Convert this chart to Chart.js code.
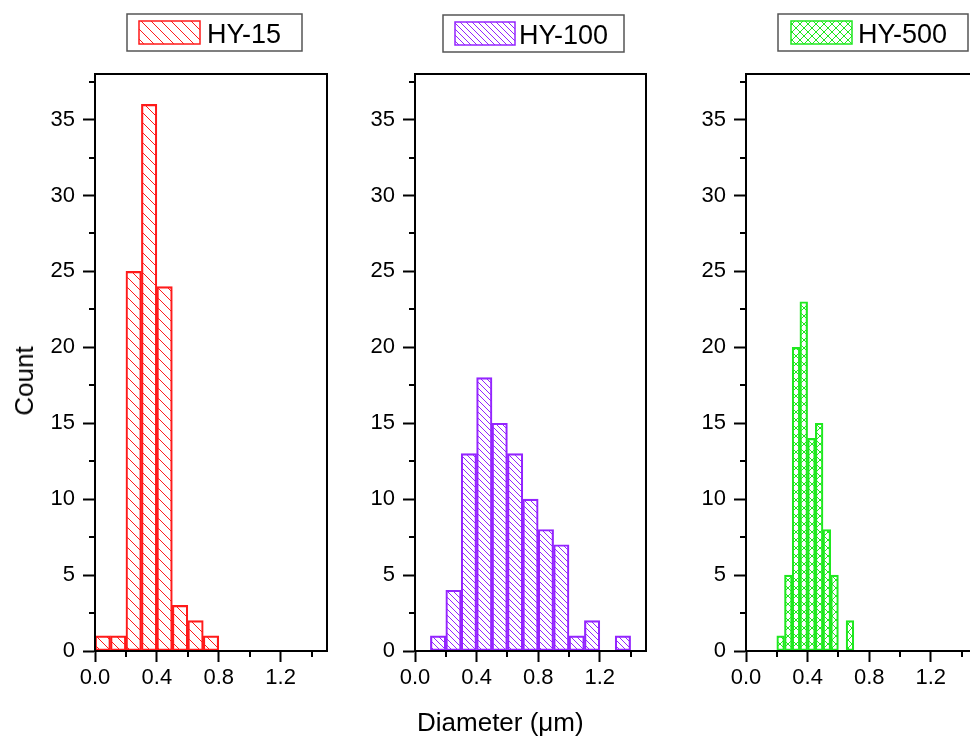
<!DOCTYPE html>
<html>
<head>
<meta charset="utf-8">
<script src="https://cdn.jsdelivr.net/npm/chart.js@4.4.0/dist/chart.umd.min.js"></script>
<style>
  html, body { margin: 0; padding: 0; background: #fff; overflow: hidden; }
  #wrap { position: relative; width: 970px; height: 742px; overflow: hidden; background: #fff; }
  canvas { position: absolute; top: 0; left: 0; }
  .ttl { position: absolute; font-family: 'Liberation Sans', Arial, sans-serif; font-size: 26px; line-height: 26px; color: #000; white-space: nowrap; }
  #ytitle { left: 24px; top: 381px; transform: translate(-50%, -50%) rotate(-90deg); }
  #xtitle { left: 417px; top: 709px; }
</style>
</head>
<body>
<div id="wrap">
  <canvas id="c1" width="990" height="742" style="width:990px;height:742px"></canvas>
  <canvas id="c2" width="990" height="742" style="width:990px;height:742px"></canvas>
  <canvas id="c3" width="990" height="742" style="width:990px;height:742px"></canvas>
  <div class="ttl" id="ytitle">Count</div>
  <div class="ttl" id="xtitle">Diameter (μm)</div>
</div>
<script>
// bin centres (µm) and counts
const hy15Bins = [0.05, 0.15, 0.25, 0.35, 0.45, 0.55, 0.65, 0.75];
const hy15Counts = [1, 1, 25, 36, 24, 3, 2, 1];

const hy100Bins = [0.15, 0.25, 0.35, 0.45, 0.55, 0.65, 0.75, 0.85, 0.95, 1.05, 1.15, 1.25, 1.35];
const hy100Counts = [1, 4, 13, 18, 15, 13, 10, 8, 7, 1, 2, 0, 1];

const hy500Bins = [0.225, 0.275, 0.325, 0.375, 0.425, 0.475, 0.525, 0.575, 0.625, 0.675];
const hy500Counts = [1, 5, 20, 23, 14, 15, 8, 5, 0, 2];

// axes
const xTicks = [0, 0.4, 0.8, 1.2];
const xTickLabels = ['0.0', '0.4', '0.8', '1.2'];
const xMinor = [0.2, 0.6, 1.0, 1.4];
const yTicks = [0, 5, 10, 15, 20, 25, 30, 35];
const yMinor = [2.5, 7.5, 12.5, 17.5, 22.5, 27.5, 32.5, 37.5];

const FONT = "'Liberation Sans', Arial, sans-serif";

function hatch(color, s, cross) {
  const c = document.createElement('canvas');
  c.width = s; c.height = s;
  const g = c.getContext('2d');
  g.strokeStyle = color;
  g.lineWidth = 1;
  g.beginPath();
  for (let k = -1; k <= 1; k++) {
    g.moveTo(0, k * s); g.lineTo(s, k * s + s);
  }
  if (cross) {
    for (let k = 0; k <= 2; k++) {
      g.moveTo(0, k * s); g.lineTo(s, k * s - s);
    }
  }
  g.stroke();
  return g.createPattern(c, 'repeat');
}

const decor = {
  id: 'decor',
  afterDatasetsDraw(chart, args, opts) {
    const ctx = chart.ctx, a = chart.chartArea;
    const x = chart.scales.x, y = chart.scales.y;
    ctx.save();
    ctx.strokeStyle = '#000';
    ctx.lineWidth = 2;
    ctx.strokeRect(a.left, a.top, a.right - a.left, a.bottom - a.top);
    // short minor ticks
    ctx.beginPath();
    xMinor.forEach(v => {
      const px = Math.round(x.getPixelForValue(v));
      ctx.moveTo(px, a.bottom); ctx.lineTo(px, a.bottom + 6);
    });
    yMinor.forEach(v => {
      const py = Math.round(y.getPixelForValue(v));
      ctx.moveTo(a.left, py); ctx.lineTo(a.left - 6, py);
    });
    ctx.stroke();

    // legend box
    const ds = chart.data.datasets[0];
    ctx.lineWidth = 1.5;
    ctx.strokeStyle = '#555';
    ctx.strokeRect(opts.box[0], opts.box[1], opts.box[2], opts.box[3]);
    ctx.fillStyle = ds.backgroundColor;
    ctx.fillRect(opts.sw[0], opts.sw[1], opts.sw[2], opts.sw[3]);
    ctx.strokeStyle = ds.borderColor;
    ctx.strokeRect(opts.sw[0], opts.sw[1], opts.sw[2], opts.sw[3]);
    ctx.fillStyle = '#000';
    ctx.font = '27px ' + FONT;
    ctx.textBaseline = 'alphabetic';
    ctx.fillText(ds.label, opts.text[0], opts.text[1]);
    ctx.restore();
  }
};

function makeChart(id, label, bins, counts, color, pattern, padL, padR, legend) {
  return new Chart(document.getElementById(id), {
    type: 'bar',
    data: {
      datasets: [{
        label: label,
        data: bins.map((b, i) => ({ x: b, y: counts[i] })),
        backgroundColor: pattern,
        borderColor: color,
        borderWidth: 1.5,
        borderSkipped: false,
        barPercentage: 1,
        categoryPercentage: 1
      }]
    },
    options: {
      responsive: false,
      animation: false,
      layout: { padding: { left: padL, right: padR, top: 74, bottom: 0 } },
      plugins: {
        legend: { display: false },
        tooltip: { enabled: false },
        decor: legend
      },
      scales: {
        x: {
          type: 'linear', min: 0, max: 1.5, offset: false,
          afterBuildTicks: s => { s.ticks = xTicks.map(v => ({ value: v })); },
          afterFit: s => { s.height = 91; },
          ticks: {
            callback: (v, i) => xTickLabels[i],
            font: { family: FONT, size: 22 }, color: '#000',
            padding: 3, maxRotation: 0, autoSkip: false
          },
          grid: { display: true, offset: false, drawOnChartArea: false, drawTicks: true, tickLength: 11, tickWidth: 2, tickColor: '#000' },
          border: { display: true, color: '#000', width: 2 }
        },
        y: {
          min: 0, max: 38,
          afterBuildTicks: s => { s.ticks = yTicks.map(v => ({ value: v })); },
          afterFit: s => { s.width = 95; },
          ticks: { font: { family: FONT, size: 22 }, color: '#000', padding: 8 },
          grid: { display: true, drawOnChartArea: false, drawTicks: true, tickLength: 12, tickWidth: 2, tickColor: '#000' },
          border: { display: true, color: '#000', width: 2 }
        }
      }
    },
    plugins: [decor]
  });
}

const red = '#ff1a1a', violet = '#9424ff', green = '#1fe81f';

makeChart('c1', 'HY-15', hy15Bins, hy15Counts, red, hatch(red, 10, false), 0, 663,
  { box: [127, 14, 175, 37], sw: [139, 21, 61, 23], text: [207, 43] });
makeChart('c2', 'HY-100', hy100Bins, hy100Counts, violet, hatch(violet, 6, false), 320, 344,
  { box: [443, 15, 181, 37], sw: [455, 22, 60, 23], text: [519, 44] });
makeChart('c3', 'HY-500', hy500Bins, hy500Counts, green, hatch(green, 8, true), 651, 13,
  { box: [778, 14, 190, 37], sw: [791, 21, 61, 23], text: [858, 43] });
</script>
</body>
</html>
